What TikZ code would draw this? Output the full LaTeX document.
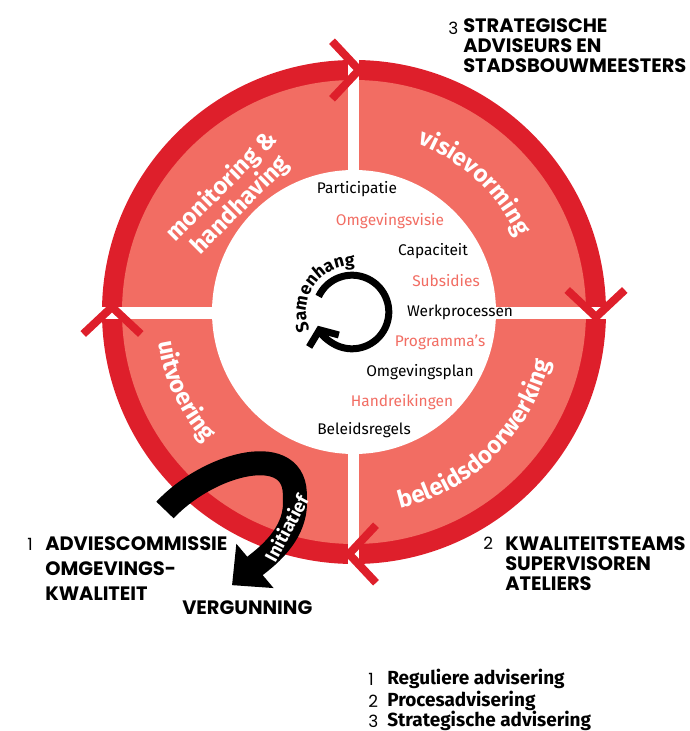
\documentclass[tikz,border=0pt]{standalone}
\usepackage{fontspec}
\setmainfont{Fira Sans}
\newfontfamily\kopfont{Poppins}
\usetikzlibrary{arrows.meta,decorations.text}

\definecolor{ringred}{HTML}{DE1F2B}
\definecolor{salmon}{HTML}{F26D63}

\newcommand\ringfont{\bfseries\fontsize{17}{15}\selectfont}

\tikzset{
  kop/.style={anchor=west, inner sep=0pt, font=\kopfont\bfseries\fontsize{13.8}{15}\selectfont},
  nummer/.style={anchor=west, inner sep=0pt, font=\kopfont\fontsize{12}{14}\selectfont},
  lijst/.style={inner sep=0pt, font=\fontsize{11}{13}\selectfont},
  legenda/.style={anchor=west, inner sep=0pt, font=\bfseries\fontsize{13.5}{14}\selectfont},
  ringtip/.style={ringred, line width=0.2cm, line join=miter, miter limit=10},
}

\begin{document}
\begin{tikzpicture}
  \useasboundingbox (-8.85,-10.475) rectangle (8.375,7.8);

  % rings
  \fill[ringred] (0,0) circle (6.3);
  \fill[salmon] (0,0) circle (5.8);
  \fill[white] (0,0) circle (3.55);

  % white cross between the quarters
  \fill[white] (-0.15,-6.6) rectangle (0.125,6.6);
  \fill[white] (-6.6,-0.175) rectangle (6.6,0.125);

  % arrow heads on the outer ring
  \draw[ringtip] (-0.55,6.77) -- (0.125,6.05) -- (-0.55,5.33);
  \draw[ringtip, rotate=-90] (-0.55,6.77) -- (0.125,6.05) -- (-0.55,5.33);
  \draw[ringtip, rotate=-180] (-0.55,6.77) -- (0.125,6.05) -- (-0.55,5.33);
  \draw[ringtip, rotate=90] (-0.55,6.77) -- (0.125,6.05) -- (-0.55,5.33);

  % quarter labels
  \node[rotate=45, align=center, text=white, font=\ringfont] (monit) at (-3.075,2.9) {monitoring \&\\handhaving};
  \path[decorate, decoration={text along path, text align=center,
    text={|\ringfont\color{white}|visievorming}}] (95:4.5) arc (95:-1:4.5);
  \path[decorate, decoration={text along path, text align=center,
    text={|\ringfont\color{white}|beleidsdoorwerking}}] (-91:5.05) arc (-91:0:5.05);
  \path[decorate, decoration={text along path, text align=center,
    text={|\ringfont\color{white}|uitvoering}}] (160:4.95) arc (160:250:4.95);

  % list in the middle
  \node[lijst] (partic) at (0.075,3.075) {Participatie};
  \node[lijst, text=salmon] (omgvisie) at (0.9,2.275) {Omgevingsvisie};
  \node[lijst] (capac) at (1.975,1.525) {Capaciteit};
  \node[lijst, text=salmon] (subsid) at (2.3,0.775) {Subsidies};
  \node[lijst] (werkpr) at (2.65,0) {Werkprocessen};
  \node[lijst, text=salmon] (progr) at (2.15,-0.75) {Programma's};
  \node[lijst] (omgplan) at (1.65,-1.5) {Omgevingsplan};
  \node[lijst, text=salmon] (handr) at (1.2,-2.25) {Handreikingen};
  \node[lijst] (beleid) at (0.25,-2.95) {Beleidsregels};

  % samenhang
  \draw[line width=0.175cm, -{Straight Barb[length=0.3cm, width=0.8cm]}] (-0.05,0) ++(155:0.92) arc (155:-158:0.92);
  \path[decorate, decoration={text along path, text align=center,
    text={|\bfseries\fontsize{12.5}{12}\selectfont|Samenhang}}] (-0.05,0) ++(205:1.15) arc (205:85:1.15);

  % initiatief
  \draw[line width=0.6cm, -{Triangle[length=0.75cm, width=1.4cm]}] (-4.725,-4.95)
    .. controls (-3.6,-3.75) and (-1.4,-3.2) .. (-1.48,-4.65)
    .. controls (-1.4,-5.6) and (-2.3,-6.2) .. (-3.05,-6.83);
  \node[rotate=62, text=white, font=\bfseries\fontsize{13}{13}\selectfont] (init) at (-1.7,-5.4) {Initiatief};

  % advisers
  \node[nummer] (nr3) at (2.35,7.1) {3};
  \node[kop] (strat1) at (2.725,7.1625) {STRATEGISCHE};
  \node[kop] (strat2) at (2.725,6.6625) {ADVISEURS EN};
  \node[kop] (strat3) at (2.725,6.1625) {STADSBOUWMEESTERS};

  \node[nummer] (nr1) at (-8.175,-5.8) {1};
  \node[kop] (advies1) at (-7.725,-5.8) {ADVIESCOMMISSIE};
  \node[kop] (advies2) at (-7.725,-6.4125) {OMGEVINGS-};
  \node[kop] (advies3) at (-7.725,-7.0375) {KWALITEIT};
  \node[kop] (vergun) at (-4.3,-7.4) {VERGUNNING};

  \node[nummer] (nr2) at (3.225,-5.79) {2};
  \node[kop] (kwal1) at (3.775,-5.7875) {KWALITEITSTEAMS};
  \node[kop] (kwal2) at (3.775,-6.2875) {SUPERVISOREN};
  \node[kop] (kwal3) at (3.775,-6.7875) {ATELIERS};

  % legend
  \node[nummer] (leg1) at (0.35,-9.175) {1};
  \node[nummer] (leg2) at (0.35,-9.725) {2};
  \node[nummer] (leg3) at (0.35,-10.225) {3};
  \node[legenda] (regul) at (0.825,-9.175) {Reguliere advisering};
  \node[legenda] (proces) at (0.825,-9.725) {Procesadvisering};
  \node[legenda] (strateg) at (0.825,-10.225) {Strategische advisering};
\end{tikzpicture}
\end{document}
